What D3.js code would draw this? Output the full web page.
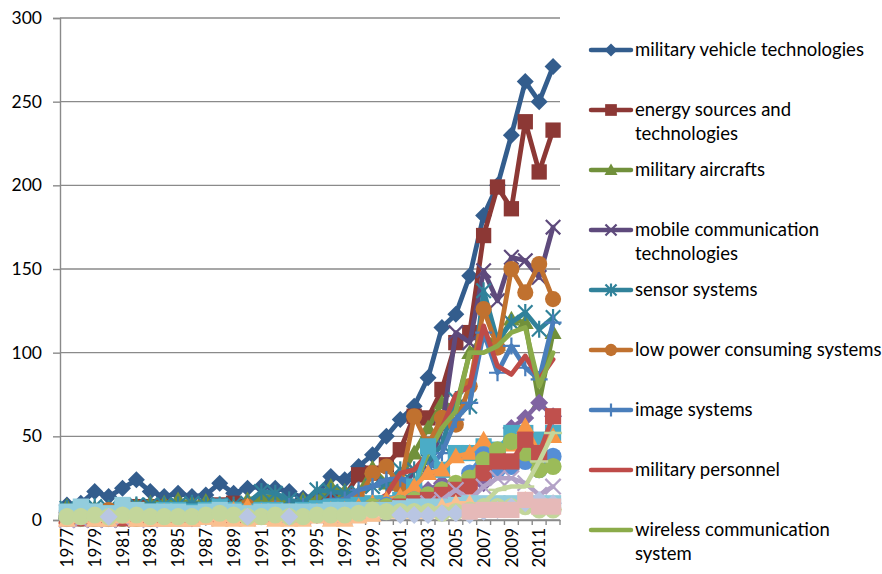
<!DOCTYPE html>
<html lang="en">
<head>
  <meta charset="UTF-8">
  <title>Technology publications by year</title>
  <script src="https://d3js.org/d3.v7.min.js"></script>
  <style>
    body { margin: 0; background: #fff; }
    svg text { font-family: Lato, "Open Sans", sans-serif; fill: #000; }
  </style>
</head>
<body>
  <svg id="svg1"></svg>
  <script>
    // categories
    const years = [1977, 1978, 1979, 1980, 1981, 1982, 1983, 1984, 1985, 1986, 1987, 1988,
      1989, 1990, 1991, 1992, 1993, 1994, 1995, 1996, 1997, 1998, 1999, 2000,
      2001, 2002, 2003, 2004, 2005, 2006, 2007, 2008, 2009, 2010, 2011, 2012];
    const yearLabels = [1977, 1979, 1981, 1983, 1985, 1987, 1989, 1991, 1993, 1995,
      1997, 1999, 2001, 2003, 2005, 2007, 2009, 2011];
    const yTicks = [0, 50, 100, 150, 200, 250, 300];

    // named series (shown in legend)
    const militaryVehicle = [9, 10, 17, 14, 19, 24, 17, 14, 16, 14, 15, 22, 16, 19, 20, 19, 17, 13, 15, 26, 24, 32, 39, 50, 60, 68, 85, 115, 123, 146, 182, 200, 230, 262, 250, 271];
    const energySources = [5, 5, 5, 5, 5, 8, 8, 8, 7, 6, 8, 9, 10, 8, 8, 9, 8, 8, 10, 12, 14, 27, 28, 33, 42, 62, 61, 78, 106, 112, 170, 199, 186, 238, 208, 233];
    const militaryAircrafts = [8, 6, 7, 6, 8, 9, 10, 10, 12, 10, 11, 9, 8, 12, 14, 14, 10, 12, 12, 20, 17, 16, 31, 22, 25, 40, 55, 70, 67, 100, 110, 105, 120, 118, 70, 112];
    const mobileComm = [0, 0, 0, 0, 0, 5, 3, 3, 3, 3, 3, 3, 3, 4, 4, 3, 3, 3, 4, 4, 5, 6, 8, 10, 15, 30, 30, 55, 112, 106, 149, 131, 157, 155, 145, 175];
    const sensorSystems = [7, 7, 8, 7, 8, 9, 9, 9, 9, 10, 9, 9, 9, 10, 17, 16, 12, 10, 18, 17, 16, 16, 20, 22, 30, 30, 35, 45, 72, 68, 137, 107, 118, 124, 114, 121];
    const lowPower = [3, 4, 5, 6, 5, 3, 4, 5, 5, 4, 5, 6, 5, 8, 6, 7, 5, 5, 6, 7, 9, 12, 28, 32, 20, 62, 45, 61, 57, 80, 126, 103, 150, 136, 153, 132];
    const imageSystems = [2, 2, 3, 3, 3, 3, 4, 4, 4, 4, 5, 5, 5, 5, 6, 7, 8, 8, 10, 12, 12, 18, 20, 24, 25, 20, 30, 40, 60, 70, 112, 88, 104, 91, 84, 118];
    const militaryPersonnel = [3, 3, 3, 3, 3, 3, 3, 3, 3, 3, 3, 3, 3, 3, 4, 4, 4, 4, 5, 6, 6, 8, 10, 15, 28, 30, 40, 55, 75, 80, 116, 92, 87, 98, 84, 96];
    const wirelessComm = [0, 0, 0, 0, 0, 0, 0, 0, 0, 0, 0, 0, 0, 0, 0, 0, 0, 1, 2, 2, 3, 4, 5, 8, 10, 20, 40, 55, 65, 100, 100, 104, 112, 115, 80, 100];

    // further series that fall outside the visible legend (null = no point)
    const extraPurple = [1, 1, 2, 1, 2, 2, 1, 2, 2, 1, 2, 3, 2, 2, 3, 3, 2, 3, 3, 4, 5, 6, 6, 8, 10, 12, 18, 22, 20, 25, 22, 30, 55, 61, 70, 62];
    const extraTeal = [4, 6, 5, 4, 6, 5, 5, 6, 6, 5, 6, 8, 6, 5, 6, 6, 5, 6, 7, 8, 8, 9, 10, 10, 12, 20, 44, 30, 40, 40, 44, 42, 52, 52, 48, 52];
    const extraOrange = [2, 3, 2, 3, 2, 3, 4, 5, 4, 3, 4, 5, 6, 8, 5, 4, 5, 4, 5, 6, 6, 8, 10, 12, 14, 20, 28, 30, 38, 40, 48, 40, 45, 56, 40, 50];
    const extraBlue = [1, 1, 1, 1, 1, 2, 2, 2, 2, 2, 2, 2, 3, 3, 3, 3, 3, 4, 4, 5, 5, 6, 8, 9, 10, 12, 15, 18, 20, 28, 39, 30, 32, 35, 30, 38];
    const extraLime = [1, 1, 1, 1, 1, 1, 1, 2, 2, 2, 2, 2, 2, 2, 3, 3, 3, 3, 4, 4, 5, 6, 8, 8, 10, 12, 15, 18, 22, 25, 36, 42, 47, 40, 30, 32];
    const extraRed = [1, 1, 1, 1, 1, 1, 1, 1, 1, 1, 2, 2, 2, 2, 2, 2, 2, 2, 3, 3, 4, 5, 6, 6, 8, 10, 12, 15, 18, 20, 28, 35, 35, 48, 40, 62];
    const extraLavender = [0, 0, 1, 0, 1, 1, 0, 1, 1, 1, 1, 1, 1, 1, 2, 2, 2, 2, 3, 3, 3, 4, 5, 6, 7, 8, 10, 12, 18, 12, 20, 25, 25, 22, 15, 20];
    const extraLightBlue = [5, 8, 5, 4, 9, 6, 5, 5, 5, 4, 5, 6, 5, 4, 5, 5, 5, 5, 5, 6, 6, 6, 6, 6, 7, 8, 8, 8, 9, 10, 10, 10, 10, 10, 10, 10];
    const extraPeach = [0, 2, 0, 0, 2, 0, 0, 0, 0, 0, 1, 0, 0, 0, 1, 0, 0, 0, 2, 0, 0, 2, 3, 5, 5, 5, 5, 8, 10, 10, 8, 7, 8, 12, 10, 10];
    const extraSalmon = [null, null, null, null, null, null, null, null, 3, 3, 3, 3, 3, 3, 3, 3, 3, 3, 3, 3, 3, 3, 3, 3, 3, 3, 4, 5, 5, 6, 6, 7, 8, 8, 8, 8];
    const extraPaleGreen = [2, 2, 3, 2, 3, 3, 2, 2, 2, 2, 3, 4, 3, 2, 2, 3, 2, 2, 3, 3, 3, 4, 6, 5, 5, 5, 5, 4, 5, 6, 8, 8, 8, 8, 6, 6];
    const extraPaleLine = [null, null, null, null, null, null, null, null, null, null, null, null, null, null, null, null, null, null, null, null, null, null, null, null, 2, 3, 4, 5, 5, 8, 10, 18, 20, 20, 35, 52];
    const extraLavDiamond = [null, null, null, 2, null, null, null, null, null, null, null, null, null, 2, null, null, 2, null, null, null, null, null, null, null, 3, 3, 3, 4, 4, 3, 5, 6, 8, 10, 12, 10];
    const extraPink = [null, null, null, null, null, null, null, null, null, null, null, null, null, null, null, null, null, null, null, null, null, null, null, null, null, null, null, null, null, 5, 6, 6, 6, 12, 8, 8];

    const series = [
      {label: ["military vehicle technologies"], values: militaryVehicle, color: "#335d8d", marker: "diamond"},
      {label: ["energy sources and", "technologies"], values: energySources, color: "#8c3835", marker: "square"},
      {label: ["military aircrafts"], values: militaryAircrafts, color: "#71903b", marker: "triangle"},
      {label: ["mobile communication", "technologies"], values: mobileComm, color: "#5e4a7c", marker: "x"},
      {label: ["sensor systems"], values: sensorSystems, color: "#31829a", marker: "star"},
      {label: ["low power consuming systems"], values: lowPower, color: "#c0712f", marker: "circle"},
      {label: ["image systems"], values: imageSystems, color: "#4a7ebb", marker: "plus"},
      {label: ["military personnel"], values: militaryPersonnel, color: "#be4b48", marker: "none"},
      {label: ["wireless communication", "system"], values: wirelessComm, color: "#8bab4a", marker: "none"},
      {values: extraPurple, color: "#8064a2", marker: "diamond"},
      {values: extraTeal, color: "#4bacc6", marker: "square"},
      {values: extraOrange, color: "#f79646", marker: "triangle"},
      {values: extraBlue, color: "#558ed5", marker: "circle"},
      {values: extraLime, color: "#9bbb59", marker: "circle"},
      {values: extraRed, color: "#c0504d", marker: "square"},
      {values: extraLavender, color: "#b3a2c7", marker: "x"},
      {values: extraLightBlue, color: "#93cddd", marker: "square"},
      {values: extraPeach, color: "#fac090", marker: "triangle"},
      {values: extraSalmon, color: "#f2c4b0", marker: "none"},
      {values: extraPaleGreen, color: "#c3d69b", marker: "circle"},
      {values: extraPaleLine, color: "#c3d69b", marker: "dash"},
      {values: extraLavDiamond, color: "#b9c6e3", marker: "diamond"},
      {values: extraPink, color: "#e6b9b8", marker: "square"}
    ];

    const width = 882, height = 574;
    const margin = {top: 18, right: 322, bottom: 54, left: 60};
    const plotBottom = height - margin.bottom;
    const plotRight = width - margin.right;

    const svg = d3.select('#svg1')
      .attr('width', width)
      .attr('height', height);

    const xScale = d3.scaleBand()
      .domain(years)
      .range([margin.left, plotRight]);

    const yScale = d3.scaleLinear()
      .domain([0, 300])
      .range([plotBottom, margin.top]);

    const cx = d => xScale(d) + xScale.bandwidth() / 2;

    // gridlines
    svg.append('g')
      .selectAll('line')
      .data(yTicks)
      .enter()
      .append('line')
      .attr('x1', margin.left)
      .attr('x2', plotRight)
      .attr('y1', d => yScale(d))
      .attr('y2', d => yScale(d))
      .attr('stroke', '#8a8a8a')
      .attr('stroke-width', 1.4);

    // left axis
    const leftAxis = d3.axisLeft(yScale)
      .tickValues(yTicks)
      .tickSize(7)
      .tickPadding(11);
    const gy = svg.append('g')
      .attr('transform', `translate(${margin.left}, 0)`)
      .call(leftAxis);
    gy.select('.domain').attr('stroke', '#8a8a8a').attr('stroke-width', 1.4);
    gy.selectAll('.tick line').attr('stroke', '#8a8a8a').attr('stroke-width', 1.4);
    gy.selectAll('text').style('font-size', '17.5px');

    // bottom axis: ticks between categories, labels on every other year
    svg.append('g')
      .selectAll('line')
      .data(years.concat([null]))
      .enter()
      .append('line')
      .attr('x1', d => d === null ? plotRight : xScale(d))
      .attr('x2', d => d === null ? plotRight : xScale(d))
      .attr('y1', plotBottom)
      .attr('y2', plotBottom + 5)
      .attr('stroke', '#8a8a8a')
      .attr('stroke-width', 1.4);

    const bottomAxis = d3.axisBottom(xScale)
      .tickValues(yearLabels)
      .tickSize(0);
    const gx = svg.append('g')
      .attr('transform', `translate(0, ${plotBottom})`)
      .call(bottomAxis);
    gx.select('.domain').attr('stroke', '#8a8a8a').attr('stroke-width', 1.4);
    gx.selectAll('text')
      .style('font-size', '17px')
      .style('text-anchor', 'end')
      .attr('transform', 'rotate(-90)')
      .attr('x', -8)
      .attr('y', 0)
      .attr('dy', '0.36em');

    // marker drawing
    function drawMarker(g, type, color, s) {
      if (type === 'diamond') {
        g.append('path').attr('d', `M0,${-s}L${s},0L0,${s}L${-s},0Z`).attr('fill', color);
      } else if (type === 'square') {
        g.append('rect').attr('x', -s * 0.9).attr('y', -s * 0.9)
          .attr('width', s * 1.8).attr('height', s * 1.8).attr('fill', color);
      } else if (type === 'triangle') {
        g.append('path').attr('d', `M0,${-s}L${s},${s * 0.75}L${-s},${s * 0.75}Z`).attr('fill', color);
      } else if (type === 'circle') {
        g.append('circle').attr('r', s * 0.95).attr('fill', color);
      } else if (type === 'x' || type === 'star') {
        const k = s * 0.85;
        g.append('path').attr('d', `M${-k},${-k}L${k},${k}M${-k},${k}L${k},${-k}`)
          .attr('stroke', color).attr('stroke-width', 2.2);
        if (type === 'star') {
          g.append('path').attr('d', `M0,${-s}L0,${s}`).attr('stroke', color).attr('stroke-width', 2.2);
        }
      } else if (type === 'plus') {
        g.append('path').attr('d', `M0,${-s}L0,${s}M${-s},0L${s},0`)
          .attr('stroke', color).attr('stroke-width', 2.2);
      } else if (type === 'dash') {
        g.append('path').attr('d', `M${-s},0L${s},0`)
          .attr('stroke', color).attr('stroke-width', 2.5);
      }
    }

    const line = d3.line()
      .defined(d => d !== null)
      .x((d, i) => cx(years[i]))
      .y(d => yScale(d));

    series.forEach((s, si) => {
      const g = svg.append('g');
      g.append('path')
        .datum(s.values)
        .attr('d', line)
        .attr('fill', 'none')
        .attr('stroke', s.color)
        .attr('stroke-width', si < 9 ? 4.8 : 4.5)
        .attr('stroke-linejoin', 'round')
        .attr('stroke-linecap', 'round');
      if (s.marker !== 'none') {
        const pts = s.values.map((v, i) => ({year: years[i], value: v})).filter(p => p.value !== null);
        g.selectAll('g.mk')
          .data(pts)
          .enter()
          .append('g')
          .attr('class', 'mk')
          .attr('transform', d => `translate(${cx(d.year)}, ${yScale(d.value)})`)
          .each(function () { drawMarker(d3.select(this), s.marker, s.color, si < 9 ? 8.5 : 9); });
      }
    });

    // legend (first nine series)
    const legendRows = [50, 110, 170, 230, 290, 350, 410, 470, 530];
    const legend = svg.append('g');
    series.slice(0, 9).forEach((s, i) => {
      const row = legend.append('g').attr('transform', `translate(0, ${legendRows[i]})`);
      row.append('line')
        .attr('x1', 591).attr('x2', 631)
        .attr('y1', 0).attr('y2', 0)
        .attr('stroke', s.color)
        .attr('stroke-width', 4.5)
        .attr('stroke-linecap', 'round');
      if (s.marker !== 'none') {
        const m = row.append('g').attr('transform', 'translate(611, 0)');
        drawMarker(m, s.marker, s.color, 6.5);
      }
      row.selectAll('text')
        .data(s.label)
        .enter()
        .append('text')
        .attr('x', 635)
        .attr('y', (d, j) => j * 24)
        .attr('dy', '0.35em')
        .style('font-size', '18.5px')
        .text(d => d);
    });
  </script>
</body>
</html>
